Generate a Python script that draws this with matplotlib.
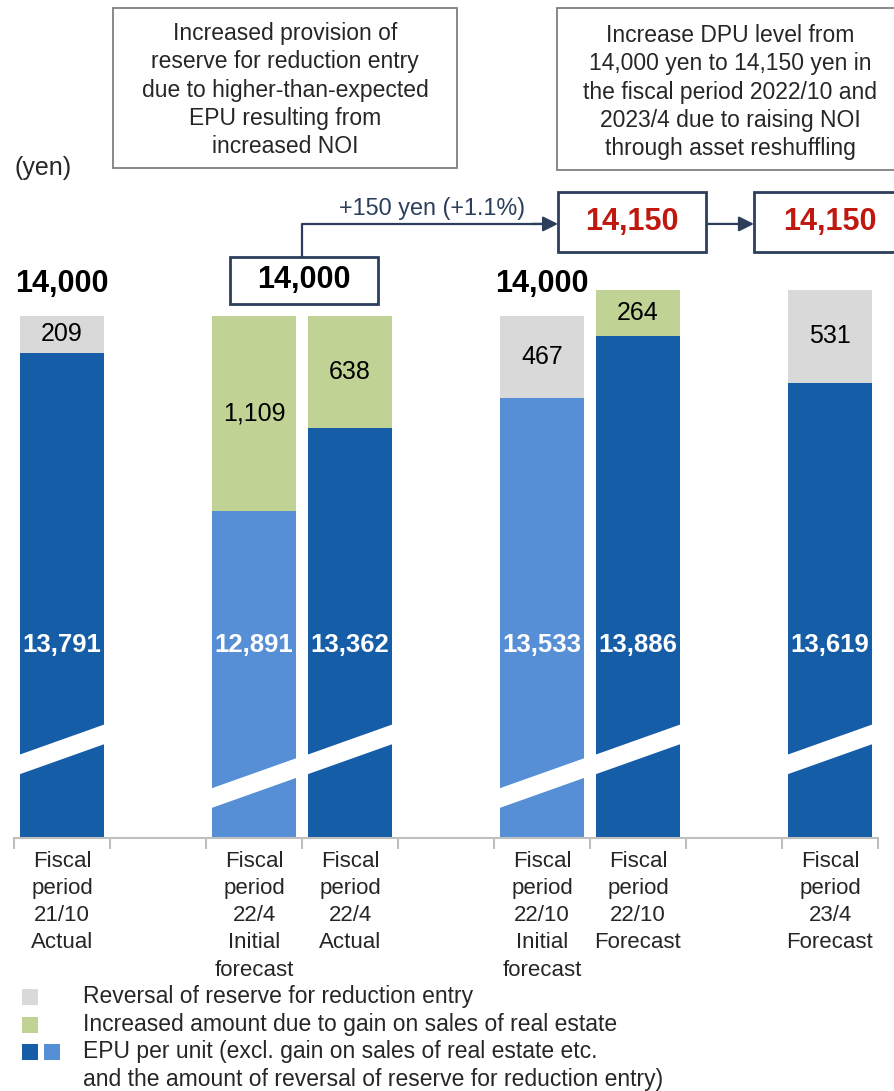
import matplotlib.pyplot as plt
from matplotlib.patches import Polygon, Rectangle
import matplotlib.transforms as mtransforms

plt.rcParams['font.family'] = ['Liberation Sans', 'DejaVu Sans']

# Data
categories = [
    "Fiscal\nperiod\n21/10\nActual",
    "Fiscal\nperiod\n22/4\nInitial\nforecast",
    "Fiscal\nperiod\n22/4\nActual",
    "Fiscal\nperiod\n22/10\nInitial\nforecast",
    "Fiscal\nperiod\n22/10\nForecast",
    "Fiscal\nperiod\n23/4\nForecast",
]
slots = [0, 2, 3, 5, 6, 8]          # category slots on the axis (gaps between groups)
epu = [13791, 12891, 13362, 13533, 13886, 13619]
gain_on_sales = [0, 1109, 638, 0, 264, 0]
reserve_reversal = [209, 0, 0, 467, 0, 531]
epu_is_forecast = [False, True, False, True, False, False]
dpu = [14000, 14000, 14000, 14000, 14150, 14150]

# Colours
DARK_BLUE = "#165da8"
LIGHT_BLUE = "#568fd5"
GREEN = "#c0d394"
GRAY = "#d9d9d9"
NAVY = "#2b3f5c"
RED = "#c0180f"
AXIS_GRAY = "#bfbfbf"
TEXT = "#262626"

W, H = 894, 1091
fig = plt.figure(figsize=(W / 100, H / 100), dpi=100)
ax = fig.add_axes([14 / W, (H - 838) / H, 864 / W, 838 / H])
ax.set_xlim(-0.5, 8.5)
ax.set_ylim(11025, 15800)

bar_w = 0.885
epu_colors = [LIGHT_BLUE if f else DARK_BLUE for f in epu_is_forecast]
ax.bar(slots, epu, width=bar_w, color=epu_colors, zorder=2)
ax.bar(slots, gain_on_sales, bottom=epu, width=bar_w, color=GREEN, zorder=2)
ax.bar(slots, reserve_reversal, bottom=epu, width=bar_w, color=GRAY, zorder=2)

# axis break bands (white slanted stripes)
band_base = {0: 11384, 2: 11192, 3: 11384, 5: 11192, 6: 11384, 8: 11384}
rise, thick = 180, 112
for s in slots:
    y0 = band_base[s]
    xl, xr = s - bar_w / 2 - 0.02, s + bar_w / 2 + 0.02
    ax.add_patch(Polygon([(xl, y0), (xr, y0 + rise), (xr, y0 + rise + thick), (xl, y0 + thick)],
                         closed=True, facecolor="white", edgecolor="none", zorder=3))

# segment labels
for s, e, g, r in zip(slots, epu, gain_on_sales, reserve_reversal):
    ax.text(s, 12125, f"{e:,}", ha="center", va="center", color="white",
            fontsize=18.5, fontweight="bold", zorder=4)
    top = g if g else r
    if top:
        ax.text(s, e + top / 2, f"{top:,}", ha="center", va="center", color="black",
                fontsize=18, zorder=4)

# DPU totals
for i in (0, 3):
    ax.text(slots[i], dpu[i] + 95, f"{dpu[i]:,}", ha="center", va="bottom",
            fontsize=22, fontweight="bold", color="black")

ax.add_patch(Rectangle((1.75, 14068), 1.54, 267, facecolor="white", edgecolor=NAVY,
                       linewidth=2, zorder=5))
ax.text(2.52, 14205, f"{dpu[1]:,}", ha="center", va="center", fontsize=22,
        fontweight="bold", color="black", zorder=6)

ax.add_patch(Rectangle((5.167, 14364), 1.54, 342, facecolor="white", edgecolor=NAVY,
                       linewidth=2, zorder=5))
ax.text(5.94, 14535, f"{dpu[4]:,}", ha="center", va="center", fontsize=22,
        fontweight="bold", color=RED, zorder=6)

ax.add_patch(Rectangle((7.208, 14364), 1.6, 342, facecolor="white", edgecolor=NAVY,
                       linewidth=2, zorder=5, clip_on=False))
ax.text(8.0, 14535, f"{dpu[5]:,}", ha="center", va="center", fontsize=22,
        fontweight="bold", color=RED, zorder=6)

# elbow arrow from 14,000 box to 14,150 box
ax.plot([2.5, 2.5, 5.0], [14335, 14524, 14524], color=NAVY, lw=1.6, zorder=4)
ax.annotate("", xy=(5.167, 14524), xytext=(4.9, 14524),
            arrowprops=dict(arrowstyle="-|>,head_length=0.9,head_width=0.45",
                            color=NAVY, lw=1.6, shrinkA=0, shrinkB=0), zorder=4)
ax.annotate("", xy=(7.208, 14524), xytext=(6.708, 14524),
            arrowprops=dict(arrowstyle="-|>,head_length=0.9,head_width=0.45",
                            color=NAVY, lw=1.6, shrinkA=0, shrinkB=0), zorder=4)
ax.text(3.85, 14612, "+150 yen (+1.1%)", ha="center", va="center", fontsize=16.8, color=NAVY)

# axis styling
for sp in ("left", "right", "top"):
    ax.spines[sp].set_visible(False)
ax.spines["bottom"].set_color(AXIS_GRAY)
ax.spines["bottom"].set_linewidth(1.5)
ax.set_yticks([])
ax.set_xticks([i - 0.5 for i in range(10)])
ax.set_xticklabels([])
ax.tick_params(axis="x", direction="out", length=8, width=1.5, color=AXIS_GRAY)

trans = mtransforms.blended_transform_factory(ax.transData, ax.transAxes)
for s, lab in zip(slots, categories):
    ax.text(s, -0.015, lab, transform=trans, ha="center", va="top", fontsize=16,
            color=TEXT, linespacing=1.39)

# top text boxes
def fx(x):
    return x / W

def fy(y):
    return 1 - y / H

fig.patches.append(Rectangle((fx(113), fy(168)), fx(457) - fx(113), fy(8) - fy(168),
                             transform=fig.transFigure, facecolor="white",
                             edgecolor="#7f7f7f", linewidth=1.3))
fig.text(fx(285), fy(90), "Increased provision of\nreserve for reduction entry\n"
         "due to higher-than-expected\nEPU resulting from\nincreased NOI",
         ha="center", va="center", fontsize=16.5, color=TEXT, linespacing=1.29)

fig.patches.append(Rectangle((fx(557), fy(170)), fx(900) - fx(557), fy(8) - fy(170),
                             transform=fig.transFigure, facecolor="white",
                             edgecolor="#7f7f7f", linewidth=1.3))
fig.text(fx(730), fy(92), "Increase DPU level from\n14,000 yen to 14,150 yen in\n"
         "the fiscal period 2022/10 and\n2023/4 due to raising NOI\nthrough asset reshuffling",
         ha="center", va="center", fontsize=16.5, color=TEXT, linespacing=1.29)

fig.text(fx(15), fy(168), "(yen)", ha="left", va="center", fontsize=18, color=TEXT)

# legend
legend_items = [
    ([GRAY], "Reversal of reserve for reduction entry", 997),
    ([GREEN], "Increased amount due to gain on sales of real estate", 1025),
    ([DARK_BLUE, LIGHT_BLUE], "EPU per unit (excl. gain on sales of real estate etc.\n"
     "and the amount of reversal of reserve for reduction entry)", 1052),
]
for cols, text, yy in legend_items:
    for k, c in enumerate(cols):
        fig.patches.append(Rectangle((fx(22 + 22 * k), fy(yy + 8)), 16 / W, 16 / H,
                                     transform=fig.transFigure, facecolor=c, edgecolor="none"))
    fig.text(fx(83), fy(yy - 12), text, ha="left", va="top", fontsize=16.5,
             color=TEXT, linespacing=1.29)

fig.savefig("out.png", dpi=100)
